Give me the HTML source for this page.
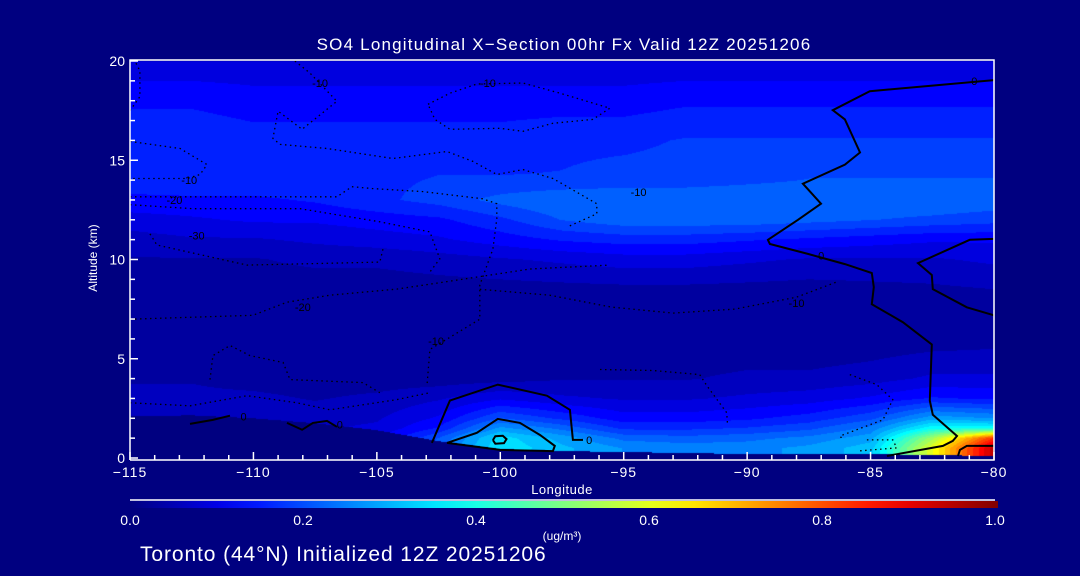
<!DOCTYPE html>
<html><head><meta charset="utf-8"><style>
html,body{margin:0;padding:0;background:#000080;}
#wrap{position:relative;width:1080px;height:576px;background:#000080;overflow:hidden;font-family:"Liberation Sans",sans-serif;}
canvas{position:absolute;left:0;top:0;}
svg{position:absolute;left:0;top:0;}
svg text{font-family:"Liberation Sans",sans-serif;fill:#fff;}
</style></head><body>
<div id="wrap">
<canvas id="fld" width="1080" height="576"></canvas>
<svg id="ov" width="1080" height="576"></svg>
</div>
<script>
const lons=[-115,-112.5,-110,-107.5,-105,-102.5,-100,-97.5,-95,-92.5,-90,-87.5,-85,-82.5,-80];
const alts=[20,18,16,14,13,12,11,10,8,6,4,3,2,1.5,1,0.5,0];
const r20=[.10,.10,.10,.10,.10,.10,.10,.10,.10,.10,.10,.10,.10,.10,.10];
const r18=[.15,.15,.14,.14,.14,.14,.14,.14,.14,.15,.15,.15,.15,.15,.15];
const r16=[.18,.18,.17,.17,.17,.17,.17,.18,.18,.19,.19,.19,.19,.19,.19];
const r14=[.17,.18,.18,.18,.18,.19,.19,.19,.20,.20,.21,.22,.22,.22,.22];
const r13=[.15,.15,.15,.16,.18,.20,.23,.25,.25,.25,.25,.25,.25,.25,.24];
const r12=[.11,.12,.13,.13,.14,.15,.18,.22,.24,.24,.24,.23,.22,.21,.20];
const r11=[.08,.09,.09,.10,.11,.12,.14,.16,.17,.17,.16,.15,.14,.13,.13];
const r10=[.06,.06,.06,.07,.07,.08,.09,.10,.11,.11,.10,.09,.09,.09,.10];
const r8=[.05,.045,.04,.035,.035,.035,.035,.035,.035,.035,.035,.035,.04,.045,.05];
const r6=[.05,.045,.04,.035,.035,.035,.035,.035,.035,.035,.035,.035,.04,.045,.05];
const r4=[.06,.06,.05,.045,.045,.045,.05,.06,.06,.06,.07,.07,.08,.10,.10];
const r3=[.07,.07,.07,.06,.07,.09,.12,.10,.09,.09,.10,.11,.13,.16,.15];
const r2=[.08,.08,.08,.08,.09,.13,.22,.18,.14,.14,.15,.17,.21,.30,.28];
const r15=[.09,.09,.09,.09,.10,.16,.29,.24,.18,.18,.19,.21,.26,.40,.40];
const r1=[.10,.10,.10,.10,.12,.22,.36,.30,.24,.23,.24,.26,.30,.55,.85];
const r05=[.10,.10,.10,.10,.12,.24,.37,.32,.28,.27,.27,.29,.33,.62,.96];
const r0=[.10,.10,.10,.10,.12,.24,.35,.32,.28,.27,.27,.29,.33,.62,.96];
const field=[r20,r18,r16,r14,r13,r12,r11,r10,r8,r6,r4,r3,r2,r15,r1,r05,r0];
const terrain=[2.1,2.15,2.0,1.75,1.4,0.85,0.45,0.35,0.3,0.25,0.2,0.2,0.2,0.15,0.1];
const xTicks=[-115,-110,-105,-100,-95,-90,-85,-80];
const yTicks=[0,5,10,15,20];
const cbTicks=["0.0","0.2","0.4","0.6","0.8","1.0"];
const cSolidMain=[[-80,19.04],[-80.86,18.94],[-85.03,18.48],[-86.53,17.52],[-86.04,17.06],[-85.43,15.39],[-86.04,14.78],[-87.74,13.82],[-87.01,12.81],[-87.94,12.0],[-89.16,10.99],[-89.08,10.78],[-87.54,10.28],[-86.04,9.77],[-84.95,9.32],[-84.87,8.61],[-84.95,7.75],[-83.69,6.84],[-82.52,5.72],[-82.6,2.89],[-82.48,2.18],[-81.5,1.11],[-81.67,0.86],[-82.07,0.61],[-84.34,0.1]];
const cSolidRight=[[-80,11.04],[-80.98,10.99],[-83.08,9.82],[-82.52,9.22],[-82.48,8.51],[-81.1,7.59],[-80,7.19]];
const cSolidRed=[[-81.46,0.1],[-81.38,0.41],[-81.1,0.61],[-80,0.61]];
const cBlobOuter=[[-102.77,0.76],[-102.04,2.89],[-100.1,3.7],[-98.11,3.14],[-97.18,2.43],[-97.06,0.91],[-96.65,0.91]];
const cBlobInner=[[-102.16,0.76],[-100.95,1.27],[-100.1,1.97],[-99.2,1.77],[-98.39,1.16],[-97.79,0.61],[-97.87,0.35],[-100.01,0.41],[-102.16,0.76]];
const cBlobCore=[[-100.3,0.9],[-100.2,1.1],[-99.9,1.12],[-99.75,0.95],[-99.85,0.75],[-100.2,0.72],[-100.3,0.9]];
const cSolidL1=[[-112.57,1.72],[-111.64,1.92],[-110.95,2.13]];
const cSolidL2=[[-108.64,1.77],[-108.03,1.42],[-107.59,1.77],[-107.02,1.87],[-106.62,1.57]];
const dA=[[-102.93,17.82],[-102.04,18.38],[-100.95,18.84],[-99.08,18.89],[-97.58,18.38],[-95.56,17.62],[-96.25,17.06],[-97.87,16.86],[-99.08,16.46],[-100.01,16.61],[-102.04,16.56],[-102.65,17.06],[-102.93,17.82]];
const dB=[[-108.32,20],[-107.71,19.39],[-106.62,17.97],[-108.03,16.56],[-109.0,17.47],[-109.21,16.1],[-108.92,15.8],[-107.02,15.59],[-104.35,15.09],[-102.16,15.44],[-101.11,14.94],[-100.14,14.28],[-99.08,14.53],[-97.87,14.08],[-96.09,12.81],[-96.09,12.3],[-97.26,11.65]];
const dC=[[-115,15.95],[-112.97,15.59],[-111.88,14.78],[-112.16,14.28],[-112.69,14.08],[-115,14.08]];
const dD=[[-115,13.16],[-106.62,13.16],[-106.01,13.67],[-105.16,13.57],[-103.13,13.42],[-100.71,13.06],[-100.14,12.81],[-100.14,12.05],[-100.3,10.53],[-100.83,8.71],[-100.83,6.99],[-102.85,5.47],[-102.97,3.65]];
const dE=[[-115,12.76],[-112.45,12.56],[-108.11,12.56],[-104.88,11.9],[-102.85,11.39],[-102.45,10.03],[-102.85,9.37]];
const dF=[[-114.19,11.29],[-113.91,10.73],[-110.26,9.72],[-104.88,9.87],[-104.75,10.53]];
const dG=[[-95.96,4.46],[-93.82,4.41],[-91.92,4.2],[-91.64,3.65],[-90.83,2.28],[-90.79,1.62]];
const dH=[[-85.84,4.2],[-84.75,3.7],[-84.1,2.94],[-84.5,1.92],[-86.24,1.11],[-86.12,0.91]];
const dI=[[-85.15,0.91],[-84.1,0.91],[-83.94,0.51],[-85.56,0.35]];
const dJ=[[-115,2.78],[-112.57,2.63],[-110.26,3.14],[-108.24,2.78],[-106.9,2.43],[-104.19,2.94],[-102.85,3.29]];
const dK=[[-111.76,3.95],[-111.64,5.16],[-110.95,5.67],[-110.14,5.16],[-108.8,4.81],[-108.52,3.95],[-105.56,3.8],[-104.88,3.29]];
const dL=[[-115,6.99],[-110.02,7.19],[-108.64,7.85],[-106.9,8.2],[-104.19,8.51],[-101.51,9.01],[-98.8,9.52],[-95.56,9.72]];
const dM=[[-100.83,8.5],[-98,8.2],[-95.5,7.6],[-93,7.3],[-90.5,7.5],[-88,8.1],[-86.3,8.9]];
const dN=[[-115,17.5],[-114.6,18.2],[-114.6,19.5],[-114.8,20]];
const labels=[["-10",-107.3,18.9],["-10",-100.5,18.9],["-10",-112.6,14.0],["-10",-94.4,13.4],["-20",-113.2,13.0],["-30",-112.3,11.2],["-20",-108,7.6],["-10",-102.6,5.9],["-10",-88,7.8],["0",-110.4,2.1],["0",-106.5,1.7],["0",-96.4,0.9],["0",-87.0,10.2],["0",-80.8,19.0]];

const X0=130,X1=994,Y0=458,PPK=19.85;
const xs=l=>X0+(l+115)/35*(X1-X0);
const ys=a=>Y0-a*PPK;
function jet(v){const c=t=>Math.max(0,Math.min(1,t));return [c(1.5-Math.abs(4*v-3)),c(1.5-Math.abs(4*v-2)),c(1.5-Math.abs(4*v-1))].map(t=>Math.round(t*255));}
function seg(arr,v){for(let i=0;i<arr.length-1;i++){const a=arr[i],b=arr[i+1];if((v>=a&&v<=b)||(v<=a&&v>=b))return [i,(v-a)/(b-a)];}return [arr.length-2,1];}
const cv=document.getElementById('fld'),ctx=cv.getContext('2d');
ctx.fillStyle='#000080';ctx.fillRect(0,0,1080,576);
const px0=X0,px1=X1,py0=Math.round(ys(20)),py1=456;
const img=ctx.createImageData(px1-px0,py1-py0);
for(let py=py0;py<py1;py++){const a=(Y0-py-0.5)/PPK;const[ri,rt]=seg(alts,Math.max(0,Math.min(20,a)));
 for(let px=px0;px<px1;px++){const l=-115+(px+0.5-X0)/(X1-X0)*35;const[ci,ct]=seg(lons,Math.max(-115,Math.min(-80,l)));
  const k=((py-py0)*(px1-px0)+(px-px0))*4;
  const ter=terrain[ci]*(1-ct)+terrain[ci+1]*ct;
  let col;
  if(a<ter){col=[0,0,128];}else{
   const v=(field[ri][ci]*(1-ct)+field[ri][ci+1]*ct)*(1-rt)+(field[ri+1][ci]*(1-ct)+field[ri+1][ci+1]*ct)*rt;
   col=jet(Math.floor(v*32)/32);}
  img.data[k]=col[0];img.data[k+1]=col[1];img.data[k+2]=col[2];img.data[k+3]=255;}}
ctx.putImageData(img,px0,py0);
const NS='http://www.w3.org/2000/svg',svg=document.getElementById('ov');
function mk(t,at,parent){const e=document.createElementNS(NS,t);for(const k in at)e.setAttribute(k,at[k]);(parent||svg).appendChild(e);return e;}
function line(pts,solid,name){const e=mk('polyline',{points:pts.map(p=>xs(p[0]).toFixed(1)+','+ys(p[1]).toFixed(1)).join(' '),fill:'none',stroke:'#000','stroke-width':solid?2:1.3,'stroke-dasharray':solid?'none':'1.5 3.5'});

}
[[cSolidMain,'contour-zero-main'],[cSolidRight,'contour-zero-right'],[cSolidRed,'contour-red-core'],[cBlobOuter,'contour-blob-outer'],[cBlobInner,'contour-blob-inner'],[cBlobCore,'contour-blob-core'],[cSolidL1,'contour-left-a'],[cSolidL2,'contour-left-b']].forEach(c=>line(c[0],true,c[1]));
[[dA,'contour-a'],[dB,'contour-b'],[dC,'contour-c'],[dD,'contour-d'],[dE,'contour-e'],[dF,'contour-f'],[dG,'contour-g'],[dH,'contour-h'],[dI,'contour-i'],[dJ,'contour-j'],[dK,'contour-k'],[dL,'contour-l'],[dM,'contour-m'],[dN,'contour-n']].forEach(c=>line(c[0],false,c[1]));
labels.forEach(l=>{const t=mk('text',{x:xs(l[1]),y:ys(l[2])+4,'font-size':11,'text-anchor':'middle',style:'fill:#000'});t.textContent=l[0];

});
const ax=mk('g',{stroke:'#fff','stroke-width':1.5,fill:'none'});


mk('polyline',{points:`${X0},460 ${X0},60 ${X1},60 ${X1},460 ${X0},460`},ax);
for(let l=-115;l<=-80;l++){const x=xs(l),maj=(l%5===0);mk('line',{x1:x,y1:460,x2:x,y2:maj?452:455},ax);}
for(let a=0;a<=20;a++){const y=ys(a),maj=(a%5===0);mk('line',{x1:X0,y1:y,x2:X0+(maj?8:5),y2:y},ax);}
xTicks.forEach(l=>{const t=mk('text',{x:xs(l),y:477,'font-size':14,'text-anchor':'middle','letter-spacing':1});t.textContent=(l<0?'\u2212':'')+Math.abs(l);

});
yTicks.forEach(a=>{const t=mk('text',{x:125,y:ys(a)+5,'font-size':14,'text-anchor':'end'});t.textContent=a;

});
const grad=mk('linearGradient',{id:'jetg',x1:0,x2:1,y1:0,y2:0},mk('defs',{}));
for(let i=0;i<=20;i++){const c=jet(i/20);mk('stop',{offset:i/20,'stop-color':`rgb(${c})`},grad);}
const cb=mk('rect',{x:130,y:501,width:868,height:7,fill:'url(#jetg)'});


mk('line',{x1:130,y1:500,x2:995,y2:500,stroke:'#fff','stroke-width':1.5});
cbTicks.forEach((s,i)=>{const t=mk('text',{x:130+i*173,y:525,'font-size':14,'text-anchor':'middle'});t.textContent=s;

});
</script>
<svg width="1080" height="576" style="position:absolute;left:0;top:0">
<text x="564" y="50" font-size="17" text-anchor="middle" letter-spacing="1.2">SO4 Longitudinal X−Section 00hr  Fx Valid 12Z 20251206</text>
<text x="562" y="494" font-size="13" text-anchor="middle" letter-spacing="0.5">Longitude</text>
<text x="97" y="258" font-size="12" text-anchor="middle" transform="rotate(-90 97 258)">Altitude (km)</text>
<text x="562" y="540" font-size="12" text-anchor="middle">(ug/m³)</text>
<text x="140" y="561" font-size="21" letter-spacing="0.9">Toronto (44°N) Initialized 12Z 20251206</text>
</svg>
</body></html>
